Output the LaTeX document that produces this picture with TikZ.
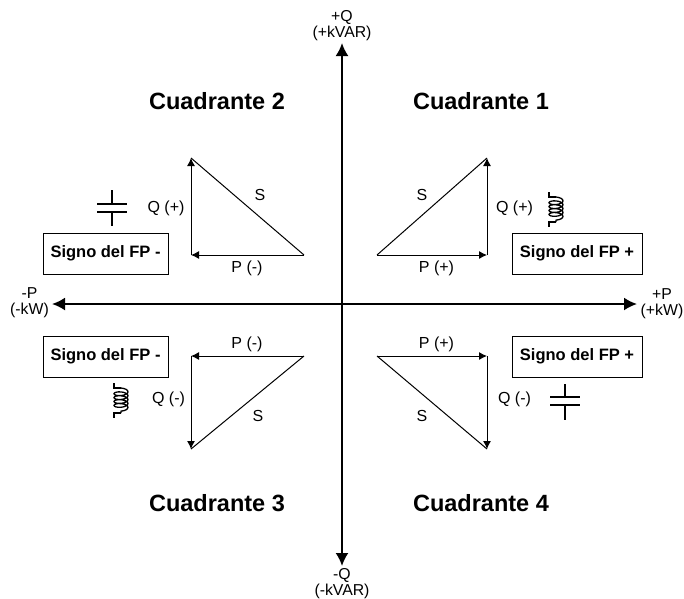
\documentclass[tikz,border=0pt]{standalone}
\usepackage{fontspec}
\setmainfont{Liberation Sans}
\usetikzlibrary{arrows.meta, decorations.pathmorphing}

\begin{document}
\begin{tikzpicture}[
	x=1pt, y=-1pt,
	% --- Styles ---
	axisline/.style={
		draw, {Latex[length=13pt,width=13pt]}-{Latex[length=13pt,width=13pt]}, line width=2pt
	},
	powerline/.style={
		draw, -{Latex[length=8pt,width=8pt]}, line width=1pt
	},
	hypotenuse/.style={
		draw, line width=1pt
	},
	signblock/.style={
		rectangle, draw, line width=0.9pt, minimum height=41pt,
		inner sep=0pt, align=center, font=\bfseries\fontsize{16.5}{19}\selectfont
	},
	quadlabel/.style={
		font=\bfseries\fontsize{23.5}{27}\selectfont, inner sep=0pt
	},
	axislabel/.style={
		font=\fontsize{15.8}{16}\selectfont, align=center, inner sep=0pt
	},
	powerlabel/.style={
		font=\fontsize{16}{18}\selectfont, inner sep=0pt
	},
	plate/.style={
		draw, line width=2pt
	},
	coilwire/.style={
		draw, line width=1.3pt
	}
	]
	
	\useasboundingbox (0,0) rectangle (684,598);
	
	% --- 1. Axes ---
	\coordinate (p_neg) at (52,304);
	\coordinate (p_pos) at (637,304);
	\coordinate (q_pos) at (342,43);
	\coordinate (q_neg) at (342,566);
	\draw [axisline] (p_neg) -- (p_pos);
	\draw [axisline] (q_neg) -- (q_pos);
	
	\node [axislabel] (q_pos_label) at (342,25.5) {+Q\\(+kVAR)};
	\node [axislabel] (q_neg_label) at (342,583.5) {-Q\\(-kVAR)};
	\node [axislabel] (p_pos_label) at (662,303.5) {+P\\(+kW)};
	\node [axislabel] (p_neg_label) at (29.5,302.5) {-P\\(-kW)};
	
	% --- 2. Quadrant titles ---
	\node [quadlabel] (quad1) at (481,101) {Cuadrante 1};
	\node [quadlabel] (quad2) at (217,101) {Cuadrante 2};
	\node [quadlabel] (quad3) at (217,503) {Cuadrante 3};
	\node [quadlabel] (quad4) at (481,503) {Cuadrante 4};
	
	% --- 3. Power triangles ---
	% Quadrant 1
	\coordinate (q1_start) at (377,255);
	\coordinate (q1_corner) at (487,255);
	\coordinate (q1_tip) at (487,158);
	\draw [powerline] (q1_start) -- (q1_corner);
	\draw [powerline] (q1_corner) -- (q1_tip);
	\draw [hypotenuse] (q1_start) -- (q1_tip);
	\node [powerlabel] (q1_p) at (436.5,268) {P (+)};
	\node [powerlabel] (q1_q) at (514.5,208) {Q (+)};
	\node [powerlabel] (q1_s) at (422,195) {S};
	
	% Quadrant 2
	\coordinate (q2_start) at (304,255);
	\coordinate (q2_corner) at (191,255);
	\coordinate (q2_tip) at (191,158);
	\draw [powerline] (q2_start) -- (q2_corner);
	\draw [powerline] (q2_corner) -- (q2_tip);
	\draw [hypotenuse] (q2_start) -- (q2_tip);
	\node [powerlabel] (q2_p) at (247,268) {P (-)};
	\node [powerlabel] (q2_q) at (166,208) {Q (+)};
	\node [powerlabel] (q2_s) at (260,195) {S};
	
	% Quadrant 3
	\coordinate (q3_start) at (304,356);
	\coordinate (q3_corner) at (191,356);
	\coordinate (q3_tip) at (191,449);
	\draw [powerline] (q3_start) -- (q3_corner);
	\draw [powerline] (q3_corner) -- (q3_tip);
	\draw [hypotenuse] (q3_start) -- (q3_tip);
	\node [powerlabel] (q3_p) at (247,344) {P (-)};
	\node [powerlabel] (q3_q) at (168.5,399) {Q (-)};
	\node [powerlabel] (q3_s) at (258,416) {S};
	
	% Quadrant 4
	\coordinate (q4_start) at (377,356);
	\coordinate (q4_corner) at (487,356);
	\coordinate (q4_tip) at (487,449);
	\draw [powerline] (q4_start) -- (q4_corner);
	\draw [powerline] (q4_corner) -- (q4_tip);
	\draw [hypotenuse] (q4_start) -- (q4_tip);
	\node [powerlabel] (q4_p) at (436.5,344) {P (+)};
	\node [powerlabel] (q4_q) at (514.5,399) {Q (-)};
	\node [powerlabel] (q4_s) at (422,416) {S};
	
	% --- 4. Sign boxes ---
	\node [signblock, minimum width=130pt] (sign1) at (577,253.5) {Signo del FP +};
	\node [signblock, minimum width=125pt] (sign2) at (105.5,253.5) {Signo del FP -};
	\node [signblock, minimum width=125pt] (sign3) at (105.5,356.5) {Signo del FP -};
	\node [signblock, minimum width=130pt] (sign4) at (577,356.5) {Signo del FP +};
	
	% --- 5. Capacitors ---
	\draw [plate] (97,204) -- (127,204);
	\draw [plate] (97,212) -- (127,212);
	\draw [plate] (112,190) -- (112,204);
	\draw [plate] (112,212) -- (112,226);
	
	\draw [plate] (550,397) -- (580,397);
	\draw [plate] (550,405) -- (580,405);
	\draw [plate] (565,384) -- (565,397);
	\draw [plate] (565,405) -- (565,420);
	
	% --- 6. Inductors ---
	\foreach \cx/\cy in {549/192, 114/383} {
		\draw [coilwire] (\cx,\cy) -- (\cx,\cy+5) -- (\cx+7,\cy+5);
		\draw [coilwire] (\cx+7,\cy+30) -- (\cx,\cy+30) -- (\cx,\cy+35);
		\draw [coilwire, decorate, decoration={coil, segment length=3.9pt, amplitude=7pt, aspect=0.4}]
			(\cx+7,\cy+5) -- (\cx+7,\cy+30);
	}
	
\end{tikzpicture}
\end{document}
